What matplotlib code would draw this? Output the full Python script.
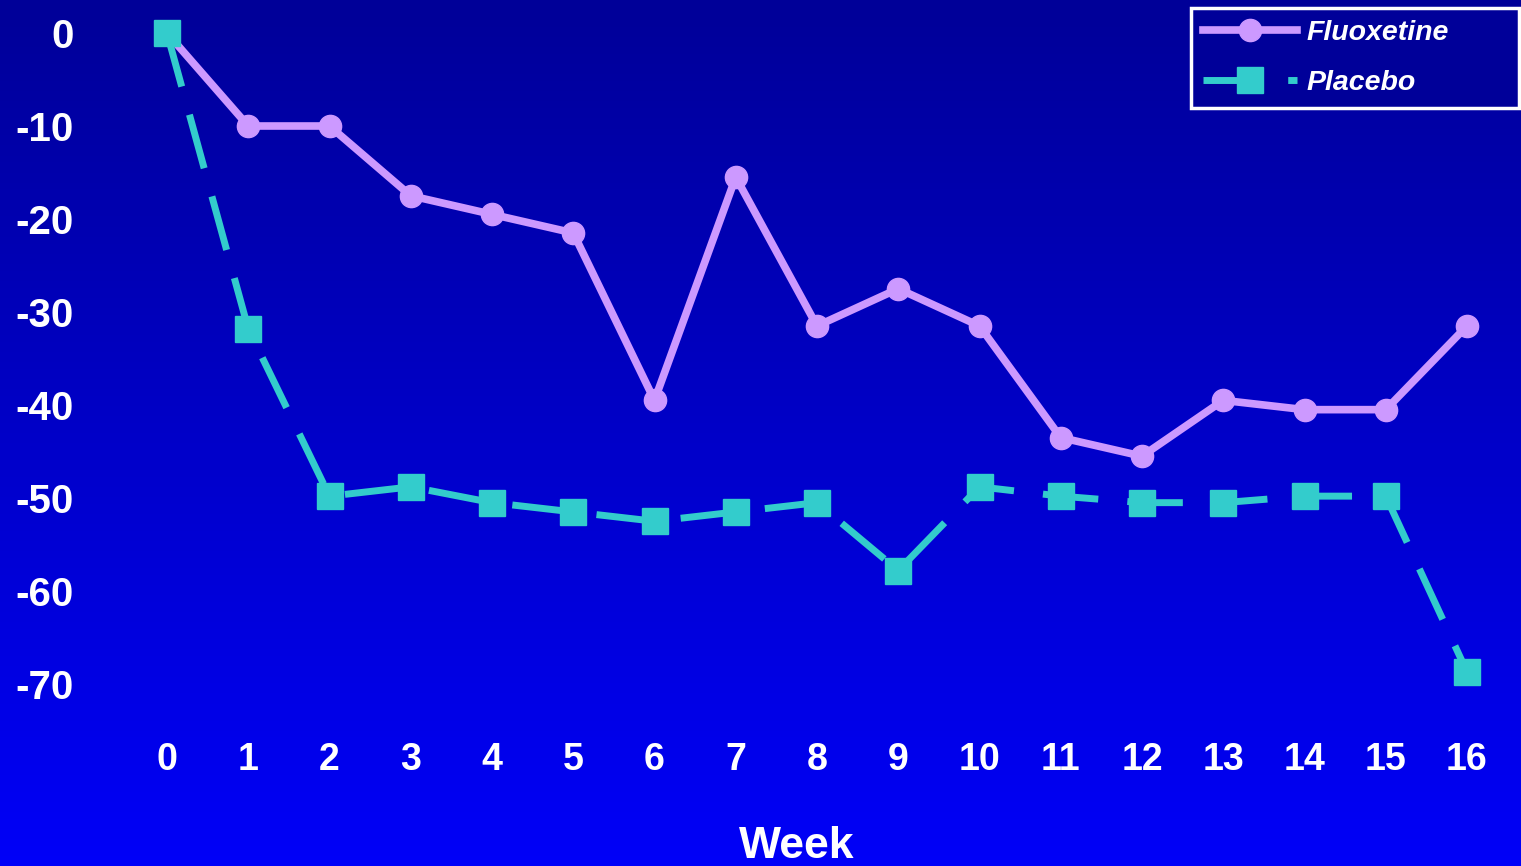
import numpy as np
import matplotlib
matplotlib.use("Agg")
import matplotlib.pyplot as plt
from matplotlib.colors import LinearSegmentedColormap

# ── Data ─────────────────────────────────────────────────────────────────
weeks = list(range(17))
fluoxetine = [0, -10, -10, -17.5, -19.5, -21.5, -39.5, -15.5, -31.5, -27.5,
              -31.5, -43.5, -45.5, -39.5, -40.5, -40.5, -31.5]
placebo = [0, -31.8, -49.8, -48.8, -50.5, -51.5, -52.5, -51.5, -50.5, -57.8,
           -48.8, -49.8, -50.5, -50.5, -49.8, -49.8, -68.7]
y_ticks = [0, -10, -20, -30, -40, -50, -60, -70]

FLUO_COLOR = "#CC99FF"
PLAC_COLOR = "#33CCCC"

plt.rcParams["font.family"] = ["Liberation Sans", "DejaVu Sans"]

W, H = 1521, 866
fig = plt.figure(figsize=(W / 100, H / 100), dpi=100)

# gradient background (dark navy at top -> bright blue at bottom)
bg = fig.add_axes([0, 0, 1, 1])
cmap = LinearSegmentedColormap.from_list("bg", ["#000098", "#0000F8"])
bg.imshow(np.linspace(0, 1, 256).reshape(-1, 1), aspect="auto", cmap=cmap,
          extent=[0, 1, 0, 1])
bg.set_axis_off()

# ── Plot ─────────────────────────────────────────────────────────────────
left_px, bottom_px = 90, 730
ax = fig.add_axes([left_px / W, (H - bottom_px) / H, (W - left_px) / W, bottom_px / H])
ax.set_facecolor("none")

ax.plot(weeks, fluoxetine, color=FLUO_COLOR, linewidth=5.5, marker="o",
        markersize=16, label="Fluoxetine", zorder=2)
ax.plot(weeks, placebo, color=PLAC_COLOR, linewidth=5, marker="s",
        markersize=19, dashes=(8, 4.2), label="Placebo", zorder=3)

px_per_x = (1467 - 167) / 16
px_per_y = 9.3
y0_px = 33
ax.set_xlim(-(167 - left_px) / px_per_x, 16 + (W - 1467) / px_per_x)
ax.set_ylim(-(bottom_px - y0_px) / px_per_y, y0_px / px_per_y)

ax.set_xticks(weeks)
ax.set_yticks(y_ticks)
ax.set_yticklabels([str(v) for v in y_ticks])
ax.tick_params(axis="both", length=0, colors="white")
ax.tick_params(axis="y", pad=12, labelsize=29)
ax.tick_params(axis="x", pad=9, labelsize=27)
for lbl in ax.get_xticklabels() + ax.get_yticklabels():
    lbl.set_fontweight("bold")
for s in ax.spines.values():
    s.set_visible(False)

fig.text(797 / W, 1 - 847 / H, "Week", color="white", fontsize=32,
         fontweight="bold", ha="center", va="center")

leg_x0, leg_x1, leg_y0, leg_y1 = 1191, 1519, 8, 105
leg = ax.legend(loc="upper left",
                bbox_to_anchor=(leg_x0 / W, 1 - leg_y1 / H,
                                (leg_x1 - leg_x0) / W, (leg_y1 - leg_y0) / H),
                bbox_transform=fig.transFigure, mode="expand", borderaxespad=0,
                fancybox=False, framealpha=1, facecolor="#000099",
                edgecolor="white", handlelength=3.3, handletextpad=0.35,
                borderpad=0.42, labelspacing=0.86,
                prop={"size": 20.5, "weight": "bold", "style": "italic"})
leg.get_frame().set_linewidth(2.5)
for t in leg.get_texts():
    t.set_color("white")

fig.savefig("out.png", dpi=100)
